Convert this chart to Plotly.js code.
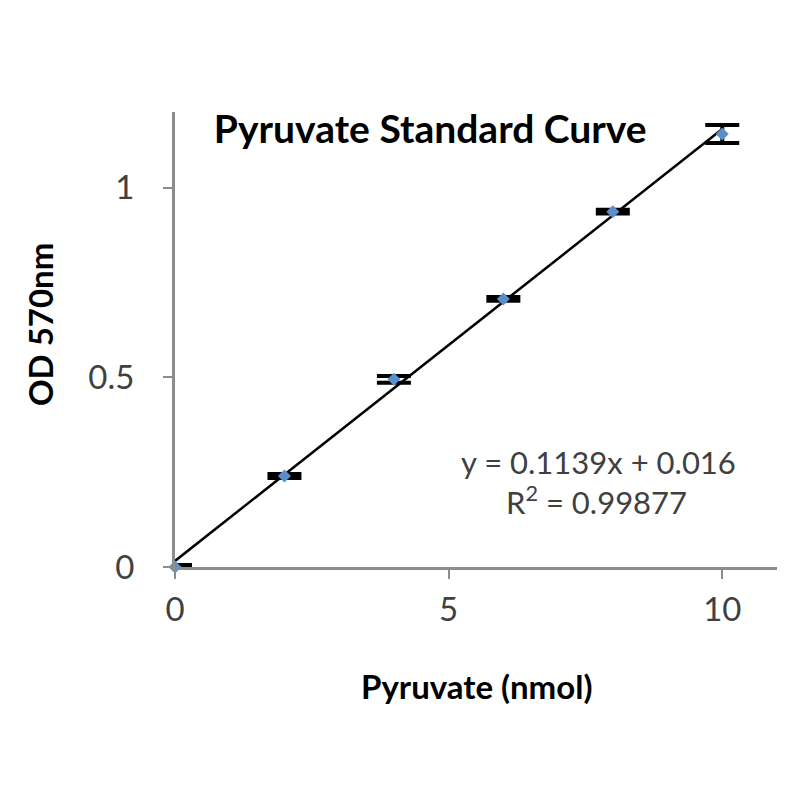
<!DOCTYPE html>
<html>
<head>
<meta charset="utf-8">
<script src="https://cdn.plot.ly/plotly-3.0.1.min.js"></script>
<style>html,body{margin:0;padding:0;background:#fff;}#chart{width:800px;height:800px;}</style>
</head>
<body>
<div id="chart"></div>
<script>
// Data
const pyruvateNmol = [0, 2, 4, 6, 8, 10];
const od570 = [0.000, 0.240, 0.495, 0.707, 0.937, 1.142];
const odError = [0.005, 0.005, 0.009, 0.005, 0.005, 0.024];
const trendX = [0, 10];
const trendY = [0.016, 1.155];
const xTickVals = [0, 5, 10];
const yTickVals = [0, 0.5, 1];
const yTickText = ['0', '0.5', '1'];
const chartTitle = 'Pyruvate Standard Curve';
const xTitle = 'Pyruvate (nmol)';
const yTitle = 'OD 570nm';
const equationText = 'y = 0.1139x + 0.016';
const r2Text = 'R<sup>2</sup> = 0.99877';

const font = 'Lato, "Open Sans", sans-serif';

const traces = [
  {
    x: trendX, y: trendY, type: 'scatter', mode: 'lines',
    line: {color: '#000000', width: 2.5}, hoverinfo: 'skip', cliponaxis: false
  },
  {
    x: pyruvateNmol, y: od570, type: 'scatter', mode: 'markers',
    marker: {symbol: 'diamond', size: 10, color: '#5B8FCC'},
    error_y: {type: 'data', array: odError, visible: true, color: '#000000', thickness: 4, width: 17},
    cliponaxis: false
  }
];

const layout = {
  width: 800, height: 800,
  paper_bgcolor: '#ffffff', plot_bgcolor: '#ffffff',
  showlegend: false,
  margin: {l: 175, r: 23, t: 112, b: 233},
  font: {family: font, color: '#404040'},
  title: {
    text: '<b>' + chartTitle + '</b>',
    font: {family: font, size: 39, color: '#000000'},
    x: 0.424, xref: 'paper', xanchor: 'center',
    y: 0.838, yref: 'container', yanchor: 'middle'
  },
  xaxis: {
    range: [0, 11], tickvals: xTickVals,
    showgrid: false, zeroline: false,
    showline: true, linecolor: '#8c8c8c', linewidth: 3,
    ticks: 'outside', ticklen: 9, tickwidth: 2, tickcolor: '#8c8c8c',
    tickfont: {family: font, size: 33, color: '#404040'},
    ticklabelstandoff: 2
  },
  yaxis: {
    range: [0, 1.2], tickvals: yTickVals, ticktext: yTickText,
    showgrid: false, zeroline: false,
    showline: true, linecolor: '#8c8c8c', linewidth: 3,
    ticks: 'outside', ticklen: 9, tickwidth: 2, tickcolor: '#8c8c8c',
    tickfont: {family: font, size: 33, color: '#404040'},
    ticklabelstandoff: 22
  },
  annotations: [
    {
      text: '<b>' + yTitle + '</b>', textangle: -90,
      xref: 'paper', yref: 'paper', x: -0.224, y: 0.532,
      xanchor: 'center', yanchor: 'middle', showarrow: false,
      font: {family: font, size: 33, color: '#000000'}
    },
    {
      text: '<b>' + xTitle + '</b>',
      xref: 'paper', yref: 'paper', x: 0.5, y: -0.262,
      xanchor: 'center', yanchor: 'middle', showarrow: false,
      font: {family: font, size: 33, color: '#000000'}
    },
    {
      text: equationText, xref: 'paper', yref: 'paper',
      x: 0.703, y: 0.231, xanchor: 'center', yanchor: 'middle', showarrow: false,
      font: {family: font, size: 31, color: '#404040'}
    },
    {
      text: r2Text, xref: 'paper', yref: 'paper',
      x: 0.700, y: 0.147, xanchor: 'center', yanchor: 'middle', showarrow: false,
      font: {family: font, size: 31, color: '#404040'}
    }
  ]
};

Plotly.newPlot('chart', traces, layout, {displayModeBar: false, staticPlot: true});
</script>
</body>
</html>
